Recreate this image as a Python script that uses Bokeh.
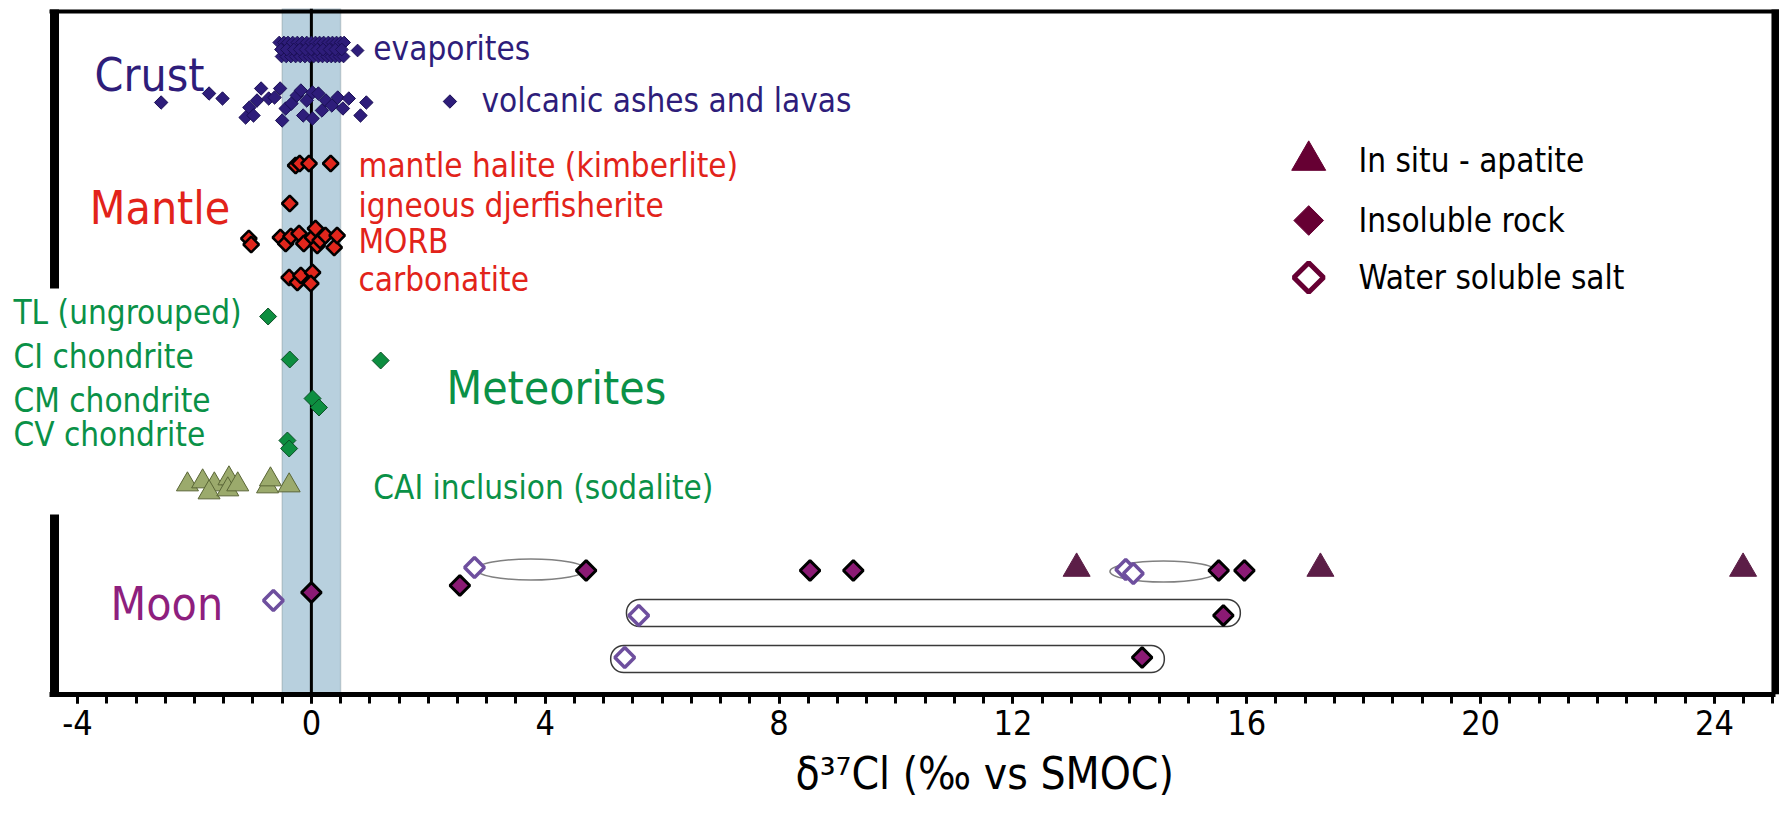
import numpy as np
from bokeh.plotting import figure
from bokeh.models import Range1d, FixedTicker, BoxAnnotation, Span, Title, ColumnDataSource
from bokeh.core.properties import value
from bokeh.embed import file_html
from bokeh.resources import INLINE

FONT = "DejaVu Sans Condensed"

# ---------------- data ----------------
major_ticks = [-4, 0, 4, 8, 12, 16, 20, 24]
tick_labels = {-4: "-4", 0: "0", 4: "4", 8: "8", 12: "12", 16: "16", 20: "20", 24: "24"}
minor_ticks = list(np.arange(-4.0, 25.01, 0.5))

# Crust (row positions are vertical placement in the panel, 0 = top)
evap_x = [-0.55, -0.47, -0.40, -0.32, -0.24, -0.16, -0.08, 0.0, 0.07, 0.14, 0.21, 0.29, 0.36, 0.43, 0.50, 0.56,
          -0.51, -0.43, -0.35, -0.27, -0.19, -0.11, -0.03, 0.04, 0.12, 0.19, 0.27, 0.34, 0.41, 0.48, 0.55,
          -0.52, -0.42, -0.30, -0.20, -0.10, 0.0, 0.10, 0.20, 0.31, 0.41, 0.52, 0.79]
evap_y = [42] * 16 + [56] * 15 + [49] * 11 + [50]

volc_x = [-2.57, -1.75, -1.52, -1.125, -1.06, -0.99, -0.93, -0.86, -0.73, -0.63, -0.535, -0.50, -0.44, -0.34,
          -0.25, -0.18, -0.14, -0.08, 0.02, 0.02, 0.12, 0.18, 0.25, 0.35, 0.45, 0.54, 0.64, 0.84, 0.94, 2.37]
volc_y = [102, 93, 98, 117, 107, 115, 100, 88, 98, 97, 88, 120, 108, 103,
          95, 90, 115, 100, 92, 118, 93, 110, 100, 105, 97, 108, 98, 115, 102, 101]

# Mantle
mant_x = [-0.27, -0.20, -0.04, 0.33,
          -0.37,
          -1.07, -1.03, -0.53, -0.44, -0.35, -0.21, -0.13, 0.02, 0.07, 0.10, 0.15, 0.24, 0.39, 0.44,
          -0.38, -0.24, -0.18, 0.02, -0.01]
mant_y = [165, 163, 163, 163,
          203,
          238, 244, 237, 243, 236, 233, 243, 237, 228, 245, 240, 235, 247, 235,
          277, 282, 275, 272, 283]

# Meteorites
met_x = [-0.74, -0.37, 1.185, 0.02, 0.13, -0.41, -0.38]
met_y = [316, 359, 360, 398, 407, 440, 448]
cai_x = [-2.12, -1.86, -1.66, -1.75, -1.41, -1.43, -1.26, -0.75, -0.70, -0.38]
cai_y = [484, 481, 484, 492, 478, 489, 484, 486, 479, 485]

# Moon
salt_x = [-0.65, 2.79, 5.60, 5.36, 13.93, 14.06]
salt_y = [600, 567, 615, 657, 569, 573]
rock_x = [0.0, 2.54, 4.70, 8.53, 9.27, 15.52, 15.96, 15.60, 14.21]
rock_y = [592, 585, 570, 570, 570, 570, 570, 615, 657]
apat_x = [13.09, 17.26, 24.49]
apat_y = [568, 568, 568]

# pairs of the same sample (salt / rock)
oval_lo = [2.82, 13.66]
oval_hi = [4.69, 15.49]
oval_y = [569, 571]
bar_lo = [5.39, 5.12]
bar_hi = [15.89, 14.59]
bar_y = [612.5, 658.5]

labels_text = ["Crust", "evaporites", "volcanic ashes and lavas",
               "Mantle", "mantle halite (kimberlite)", "igneous djerfisherite", "MORB", "carbonatite",
               "TL (ungrouped)", "CI chondrite", "CM chondrite", "CV chondrite", "Meteorites",
               "CAI inclusion (sodalite)", "Moon"]
labels_x = [-3.71, 1.06, 2.91, -3.79, 0.806, 0.806, 0.806, 0.806,
            -5.096, -5.096, -5.096, -5.096, 2.31, 1.06, -3.435]
labels_y = [74, 48, 100, 207, 165, 205, 241, 279, 312, 356, 400, 434, 387, 487, 603]

legend_text = ["In situ - apatite", "Insoluble rock", "Water soluble salt"]
legend_y = [160, 220, 277]
legend_mx = 17.06
legend_tx = 17.91

x_title = "δ³⁷Cl (‰ vs SMOC)"

# ---------------- styles ----------------
C_CRUST = "#2E1D7A"
C_MANTLE = "#E2231A"
C_MET = "#0A9147"
C_MOON = "#8E1F7E"
C_LEG = "#660033"

label_colors = [C_CRUST] * 3 + [C_MANTLE] * 5 + [C_MET] * 5 + [C_MET, C_MOON]
big = {"Crust", "Mantle", "Meteorites", "Moon"}
label_sizes = ["46px" if t in big else "33px" for t in labels_text]

p = figure(width=1779, height=816, output_backend="svg", toolbar_location=None,
           x_range=Range1d(-5.181, 25.113), y_range=Range1d(694, 8),
           y_axis_type=None, min_border_left=8, min_border_right=0,
           min_border_top=8, min_border_bottom=122)
p.outline_line_color = None
p.grid.visible = False
p.background_fill_color = "white"
p.border_fill_color = "white"

ax = p.xaxis[0]
ax.ticker = FixedTicker(ticks=major_ticks, minor_ticks=minor_ticks)
ax.major_label_overrides = tick_labels
ax.bounds = (-4.48, 25.05)
ax.axis_line_width = 5
ax.axis_line_color = "black"
ax.major_tick_in = 0
ax.minor_tick_in = 0
ax.major_tick_out = 9
ax.minor_tick_out = 9
ax.major_tick_line_width = 3
ax.minor_tick_line_width = 3
ax.major_label_text_font = FONT
ax.major_label_text_font_size = "34px"
ax.major_label_text_color = "black"
ax.major_label_standoff = 6

# shaded band around 0 and zero line
p.add_layout(BoxAnnotation(left=-0.5, right=0.5, fill_color="#B8D0DE", fill_alpha=1.0,
                           line_color="#6F8089", line_width=1.5, level="underlay"))
p.add_layout(Span(location=0, dimension="height", line_color="black", line_width=3, level="underlay"))

# frame pieces
p.segment(x0=[-4.48], x1=[25.11], y0=[11], y1=[11], line_color="black", line_width=4)
p.segment(x0=[-4.394, -4.394], x1=[-4.394, -4.394], y0=[9, 514], y1=[288, 694],
          line_color="black", line_width=9)
p.segment(x0=[25.044], x1=[25.044], y0=[9], y1=[694], line_color="black", line_width=8)

# links between paired samples
ocx = [(a + b) / 2 for a, b in zip(oval_lo, oval_hi)]
ow = [b - a for a, b in zip(oval_lo, oval_hi)]
p.ellipse(x=ocx, y=oval_y, width=ow, height=21, fill_color=None, line_color="#808080", line_width=1.5)
p.quad(left=bar_lo, right=bar_hi, top=[y - 13.5 for y in bar_y], bottom=[y + 13.5 for y in bar_y],
       fill_color=None, line_color="#3a3a3a", line_width=1.5, border_radius=13)

ang = np.pi / 4
p.scatter(evap_x, evap_y, marker="square", angle=ang, size=9, fill_color=C_CRUST, line_color="#1A0F55", line_width=1)
p.scatter(volc_x, volc_y, marker="square", angle=ang, size=9.5, fill_color=C_CRUST, line_color="#1A0F55", line_width=1)
p.scatter(mant_x, mant_y, marker="square", angle=ang, size=11, fill_color="#E1261C", line_color="black", line_width=2.5)
p.scatter(met_x, met_y, marker="square", angle=ang, size=12, fill_color="#0D8E40", line_color="#0B4F25", line_width=1)
p.scatter(cai_x, cai_y, marker="triangle", size=22, fill_color="#9BAA6C", line_color="#5A6636", line_width=1)
p.scatter(salt_x, salt_y, marker="square", angle=ang, size=14, fill_color="white", line_color="#6E4F9E", line_width=3.5)
p.scatter(rock_x, rock_y, marker="square", angle=ang, size=14, fill_color="#8B1A74", line_color="black", line_width=3)
p.scatter(apat_x, apat_y, marker="triangle", size=27, fill_color="#5C1E47", line_color="#5C1E47", line_width=1)

# legend markers
p.scatter([legend_mx], [legend_y[0]], marker="triangle", size=34, fill_color=C_LEG, line_color=C_LEG)
p.scatter([legend_mx], [legend_y[1]], marker="square", angle=ang, size=21, fill_color=C_LEG, line_color=C_LEG)
p.scatter([legend_mx], [legend_y[2]], marker="square", angle=ang, size=21, fill_color="white", line_color=C_LEG, line_width=5)

src = ColumnDataSource(dict(x=labels_x, y=labels_y, text=labels_text, color=label_colors, size=label_sizes))
p.text(x="x", y="y", text="text", source=src, text_color="color", text_font_size="size",
       text_font=value(FONT), text_align="left", text_baseline="middle")
p.text(x=[legend_tx] * 3, y=legend_y, text=legend_text, text_color="black", text_font_size="33px",
       text_font=value(FONT), text_align="left", text_baseline="middle")

p.add_layout(Title(text=x_title, align="left", offset=787, text_font=FONT, text_font_size="44px",
                   text_font_style="normal", text_color="black", standoff=16), "below")

open("out.html", "w").write(file_html(p, INLINE))
